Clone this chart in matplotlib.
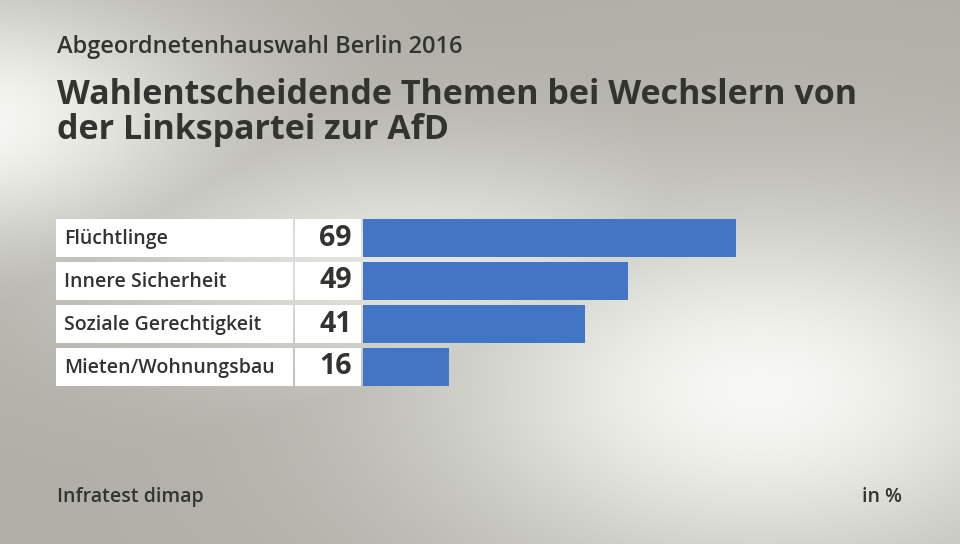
import numpy as np
import matplotlib.pyplot as plt

plt.rcParams["font.family"] = ["Open Sans", "DejaVu Sans"]

supertitle = "Abgeordnetenhauswahl Berlin 2016"
title = "Wahlentscheidende Themen bei Wechslern von\nder Linkspartei zur AfD"
themes = ["Flüchtlinge", "Innere Sicherheit", "Soziale Gerechtigkeit", "Mieten/Wohnungsbau"]
values = [69, 49, 41, 16]
source = "Infratest dimap"
unit = "in %"

W, H = 960, 544
text_col = "#333330"
bar_col = "#4276c4"

fig = plt.figure(figsize=(W / 100, H / 100), dpi=100)

# background: grey with soft light patches
bg = fig.add_axes([0, 0, 1, 1])
yy, xx = np.mgrid[0:H, 0:W]
g1 = np.exp(-(((xx - 760) / 330) ** 2 + ((yy - 390) / 190) ** 2))
g2 = np.exp(-(((xx + 40) / 260) ** 2 + ((yy - 120) / 130) ** 2))
g3 = np.exp(-(((xx - 420) / 330) ** 2 + ((yy - 260) / 120) ** 2)) * 0.75
light = np.clip(np.maximum(np.maximum(g1, g2), g3), 0, 1)
dark = np.array([176, 175, 168]) / 255
bright = np.array([247, 248, 243]) / 255
img = dark + (bright - dark) * light[..., None]
bg.imshow(img, extent=[0, W, H, 0], aspect="auto")
bg.set_xlim(0, W)
bg.set_ylim(H, 0)
bg.axis("off")

fig.text(57 / W, 1 - 47 / H, supertitle, fontsize=17, fontweight="semibold",
         color=text_col, va="center", ha="left")
fig.text(57 / W, 1 - 147 / H, title, fontsize=24.5, fontweight="bold",
         color=text_col, va="bottom", ha="left", linespacing=1.02)
fig.text(57 / W, 1 - 497 / H, source, fontsize=14, fontweight="semibold",
         color=text_col, va="center", ha="left")
fig.text(902 / W, 1 - 497 / H, unit, fontsize=14, fontweight="semibold",
         color=text_col, va="center", ha="right")

# bar axes: x in percent, 5.406 px per point
px = 5.406
x0 = 363
ax = fig.add_axes([x0 / W, 1 - 388.5 / H, 100 * px / W, 172 / H])
ax.set_xlim(0, 100)
ax.set_ylim(3.5, -0.5)
ax.axis("off")

y = np.arange(len(themes))
bh = 38 / 43
ax.barh(y, values, height=bh, color=bar_col, zorder=3)

lab_l = (56 - x0) / px
lab_r = (293 - x0) / px
val_l = (295 - x0) / px
val_r = (361 - x0) / px
ax.barh(y, lab_r - lab_l, left=lab_l, height=bh, color="white", clip_on=False)
ax.barh(y, val_r - val_l, left=val_l, height=bh, color="white", clip_on=False)

for yi, t, v in zip(y, themes, values):
    ax.text(lab_l + 8 / px, yi + 0.03, t, fontsize=14, fontweight="semibold",
            color=text_col, va="center", ha="left")
    ax.text(val_r - 9 / px, yi, str(v), fontsize=20.5, fontweight="bold",
            color=text_col, va="center", ha="right")

fig.savefig("out.png", dpi=100)
